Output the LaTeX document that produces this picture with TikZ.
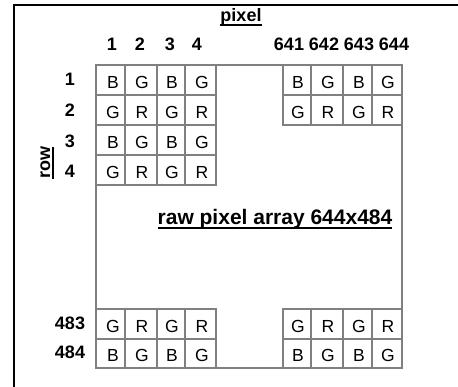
\documentclass[tikz,border=0pt]{standalone}
\usepackage{fontspec}
\setmainfont{Liberation Sans}
\usetikzlibrary{positioning}
\newcommand{\ultext}[1]{\setbox0=\hbox{#1}\rlap{\rule[-4pt]{\wd0}{2pt}}\box0}
\tikzset{
  frame line/.style={draw=black, line width=2.2pt, line join=miter},
  cell line/.style={draw=gray, line width=2.4pt, line cap=rect},
  cell text/.style={inner sep=0pt, font=\fontsize{17.5}{17.5}\selectfont},
  index label/.style={inner sep=0pt, font=\fontsize{18}{18}\selectfont\bfseries},
  array label/.style={inner sep=0pt, font=\fontsize{21}{21}\selectfont\bfseries},
}

\begin{document}
\begin{tikzpicture}[x=1pt, y=-1pt]
  \useasboundingbox (0,0) rectangle (458,387);

  % Frame
  \draw[frame line] (14,387) -- (14,5) -- (458,5);

  % Array outline
  \draw[cell line, line cap=butt] (96,65) rectangle (402,368);

  % Top left block
  \foreach \y in {95,125,155,185}
    \draw[cell line] (96,\y) -- (216,\y);
  \foreach \x in {125,157,185,216}
    \draw[cell line] (\x,65) -- (\x,185);

  % Top right block
  \foreach \y in {95,125}
    \draw[cell line] (283,\y) -- (402,\y);
  \foreach \x in {283,311,343,372}
    \draw[cell line] (\x,65) -- (\x,125);

  % Bottom blocks
  \foreach \y in {309,339} {
    \draw[cell line] (96,\y) -- (216,\y);
    \draw[cell line] (283,\y) -- (402,\y);
  }
  \foreach \x in {125,157,185,216,283,311,343,372}
    \draw[cell line] (\x,309) -- (\x,368);

  % Colour filter letters
  \foreach \blk/\xa/\xb/\xc/\xd in {l/113/142/172/202, r/298/328/359/388}
    \foreach \r/\y/\a/\b in {1/82/B/G, 2/112/G/R, 483/326/G/R, 484/355/B/G}
      \foreach \c/\x in {1/\xa, 2/\xb, 3/\xc, 4/\xd}
        \node[cell text] (\blk-\r-\c) at (\x,\y) {\ifodd\c\a\else\b\fi};
  \foreach \r/\y/\a/\b in {3/142/B/G, 4/172/G/R}
    \foreach \c/\x in {1/113, 2/142, 3/172, 4/202}
      \node[cell text] (l-\r-\c) at (\x,\y) {\ifodd\c\a\else\b\fi};

  % Headers
  \node[index label, anchor=base] (pixel title) at (241,22) {\ultext{pixel}};
  \node[index label, anchor=base, rotate=90] (row title) at (50,163) {\ultext{row}};
  \foreach \n/\x in {1/112, 2/140, 3/170, 4/197, 641/289, 642/324, 643/359, 644/394}
    \node[index label] (col-\n) at (\x,44) {\n};
  \foreach \n/\y in {1/79, 2/110, 3/141, 4/171, 483/323, 484/352}
    \node[index label] (row-\n) at (70,\y) {\n};

  % Array size
  \node[array label, anchor=base] (array size) at (275,225) {\ultext{raw pixel array 644x484}};

\end{tikzpicture}
\end{document}
